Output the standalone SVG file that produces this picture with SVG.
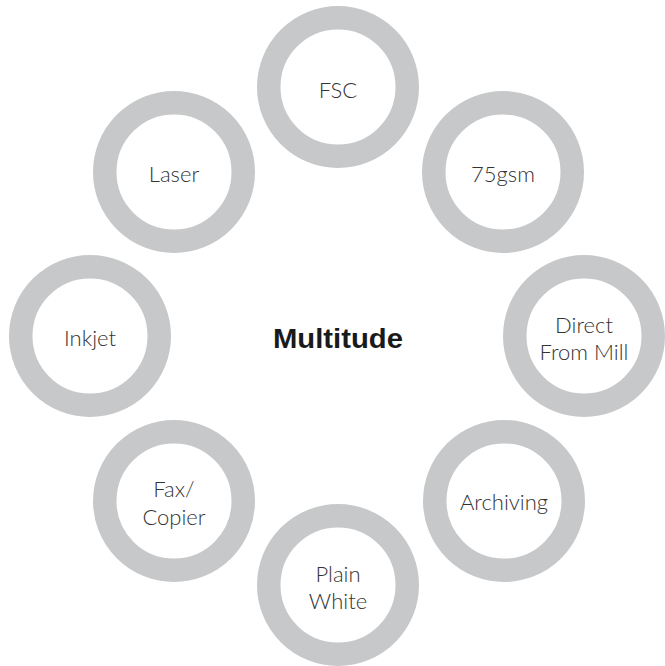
<svg xmlns="http://www.w3.org/2000/svg" width="665" height="666" viewBox="0 0 665 666">
<style>
.ring{fill:none;stroke:#c7c8ca;stroke-width:23.5}
.lbl{font-family:Lato,"Open Sans","Liberation Sans",sans-serif;font-weight:300;font-size:22px;fill:#333333;text-anchor:middle}
.ttl{font-family:"Liberation Sans",Arial,sans-serif;font-weight:bold;font-size:27px;fill:#1a1a1a;text-anchor:middle}
</style>
<rect width="665" height="666" fill="#ffffff"/>
<g id="connectors"></g>
<g id="center"><text class="ttl" x="338" y="348" textLength="130" lengthAdjust="spacingAndGlyphs">Multitude</text></g>
<g id="fsc"><circle class="ring" cx="338" cy="87" r="69.25"/><text class="lbl" x="338" y="98">FSC</text></g>
<g id="gsm"><circle class="ring" cx="503" cy="172" r="69.25"/><text class="lbl" x="503" y="182">75gsm</text></g>
<g id="mill"><circle class="ring" cx="584" cy="336" r="69.25"/><text class="lbl" x="584" y="333">Direct</text><text class="lbl" x="584" y="360">From Mill</text></g>
<g id="archiving"><circle class="ring" cx="504" cy="501" r="69.25"/><text class="lbl" x="504" y="510">Archiving</text></g>
<g id="plain"><circle class="ring" cx="338" cy="585" r="69.25"/><text class="lbl" x="338" y="582">Plain</text><text class="lbl" x="338" y="609">White</text></g>
<g id="fax"><circle class="ring" cx="174" cy="501" r="69.25"/><text class="lbl" x="174" y="497">Fax/</text><text class="lbl" x="174" y="525">Copier</text></g>
<g id="inkjet"><circle class="ring" cx="90" cy="336" r="69.25"/><text class="lbl" x="90" y="346">Inkjet</text></g>
<g id="laser"><circle class="ring" cx="174" cy="172" r="69.25"/><text class="lbl" x="174" y="182">Laser</text></g>
</svg>
